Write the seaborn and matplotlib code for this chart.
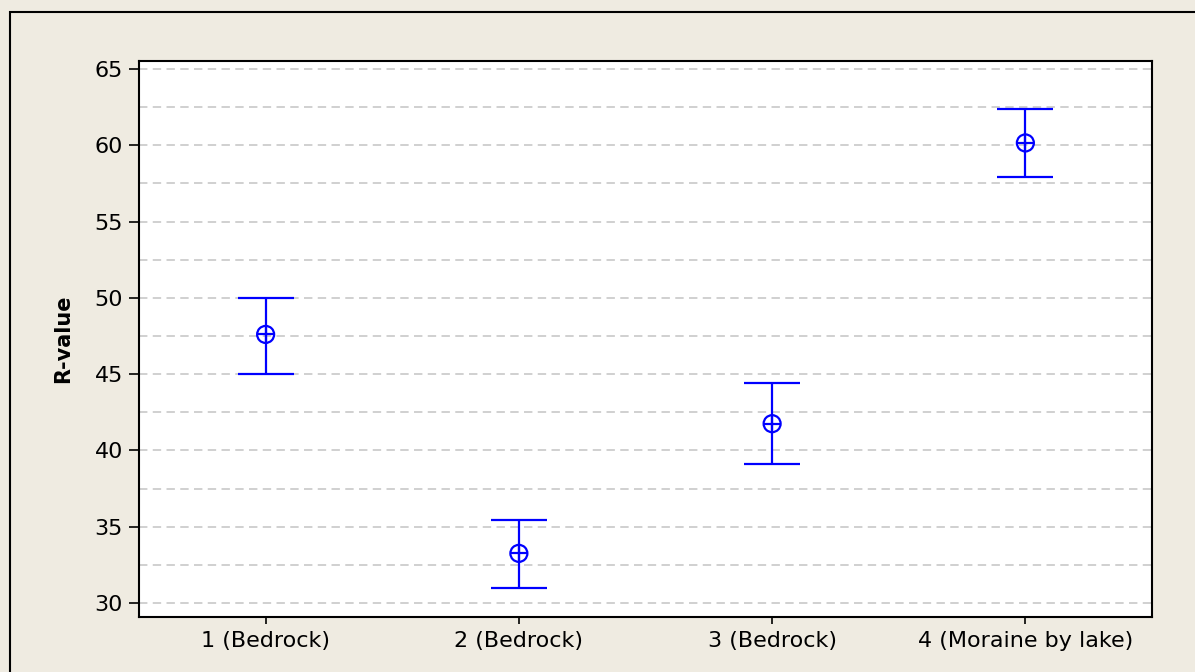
import matplotlib
matplotlib.use('Agg')
import matplotlib.pyplot as plt
import seaborn as sns
import pandas as pd
from matplotlib.patches import Rectangle

groups = ['1 (Bedrock)', '2 (Bedrock)', '3 (Bedrock)', '4 (Moraine by lake)']
means = [47.6, 33.25, 41.75, 60.15]
lower = [45.0, 31.0, 39.1, 57.95]
upper = [50.0, 35.45, 44.4, 62.35]

df = pd.DataFrame({'site': groups, 'mean': means, 'lo': lower, 'hi': upper})

sns.set_style('white')
plt.rcParams['font.family'] = ['DejaVu Sans']
bg = '#EFEBE1'
blue = '#0000FF'

fig = plt.figure(figsize=(11.95, 6.72), dpi=100, facecolor=bg)
ax = fig.add_axes([139 / 1195, 1 - 617 / 672, (1152 - 139) / 1195, (617 - 61) / 672])
ax.set_facecolor('white')

# outer frame (only top/left visible in the original crop)
fig.patches.append(Rectangle((10 / 1195, -0.1), 1.2, 1 - 12 / 672 + 0.1,
                             transform=fig.transFigure, fill=False,
                             edgecolor='black', linewidth=1.5, zorder=0))

# dashed grid every 2.5
for yv in [30 + 2.5 * i for i in range(15)]:
    ax.axhline(yv, color='#C4C4C4', linestyle=(0, (5.5, 3.5)), linewidth=1.1, zorder=1)

sns.scatterplot(data=df, x='site', y='mean', ax=ax, marker='o', s=150,
                facecolor='none', edgecolor=blue, linewidth=1.6, zorder=4)
ax.errorbar(range(len(groups)), df['mean'],
            yerr=[df['mean'] - df['lo'], df['hi'] - df['mean']],
            fmt='none', ecolor=blue, elinewidth=1.6, capsize=20, capthick=1.6, zorder=3)
ax.plot(range(len(groups)), df['mean'], linestyle='none', marker='+',
        markersize=12, markeredgewidth=1.6, color=blue, zorder=5)

ax.set_xlim(-0.5, 3.5)
ax.set_ylim(29.08, 65.52)
ax.set_yticks([30, 35, 40, 45, 50, 55, 60, 65])
ax.set_xticks(range(len(groups)))
ax.set_xticklabels(groups)
ax.tick_params(axis='y', direction='out', length=7.5, width=1.2, color='black',
               labelsize=16, labelcolor='black', left=True, pad=4)
ax.tick_params(axis='x', direction='out', length=5, width=1.2, color='black',
               labelsize=16, labelcolor='black', bottom=True, pad=5)
ax.set_xlabel('')
ax.set_ylabel('R-value', fontsize=15, fontweight='bold', color='black')
ax.yaxis.set_label_coords(-0.065, 0.5)
for s in ax.spines.values():
    s.set_visible(True)
    s.set_color('black')
    s.set_linewidth(1.5)

fig.savefig('out.png', dpi=100, facecolor=bg)
